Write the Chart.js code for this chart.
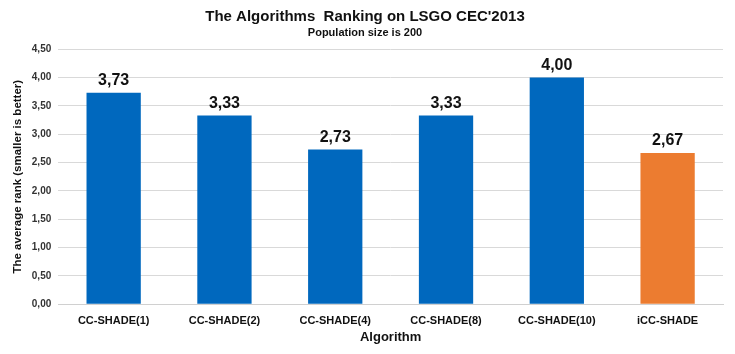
<!DOCTYPE html>
<html>
<head>
<meta charset="utf-8">
<script src="https://cdn.jsdelivr.net/npm/chart.js@4.4.1/dist/chart.umd.min.js"></script>
<style>
  html, body { margin: 0; padding: 0; background: #fff; }
  #wrap { width: 735px; height: 354px; }
</style>
</head>
<body>
<div id="wrap"><canvas id="rankChart"></canvas></div>
<script>
// chart data
const algorithms = ['CC-SHADE(1)', 'CC-SHADE(2)', 'CC-SHADE(4)', 'CC-SHADE(8)', 'CC-SHADE(10)', 'iCC-SHADE'];
const averageRank = [3.73, 3.33, 2.73, 3.33, 4.00, 2.67];
const barColors = ['#0068BE', '#0068BE', '#0068BE', '#0068BE', '#0068BE', '#EC7C30'];

const fmt = (v) => v.toFixed(2).replace('.', ',');

// draws the value above each bar
const valueLabels = {
    id: 'valueLabels',
    afterDatasetsDraw(chart) {
        const ctx = chart.ctx;
        const meta = chart.getDatasetMeta(0);
        ctx.save();
        ctx.font = 'bold 16px "Liberation Sans", Arial, sans-serif';
        ctx.fillStyle = '#111';
        ctx.textAlign = 'center';
        ctx.textBaseline = 'bottom';
        meta.data.forEach((bar, i) => {
            ctx.fillText(fmt(averageRank[i]), bar.x, bar.y - 4);
        });
        ctx.restore();
    }
};

new Chart(document.getElementById('rankChart'), {
    type: 'bar',
    data: {
        labels: algorithms,
        datasets: [{
            data: averageRank,
            backgroundColor: barColors,
            borderColor: barColors,
            borderWidth: 0,
            categoryPercentage: 1,
            barPercentage: 0.49
        }]
    },
    options: {
        responsive: true,
        maintainAspectRatio: false,
        animation: false,
        layout: { padding: { left: 7, right: 12, top: 2, bottom: 5 } },
        plugins: {
            legend: { display: false },
            tooltip: { enabled: false },
            title: {
                display: true,
                text: "The Algorithms  Ranking on LSGO CEC'2013",
                color: '#111',
                font: { family: '"Liberation Sans", Arial, sans-serif', size: 15, weight: 'bold' },
                padding: { top: 6, bottom: 0 }
            },
            subtitle: {
                display: true,
                text: 'Population size is 200',
                color: '#111',
                font: { family: '"Liberation Sans", Arial, sans-serif', size: 11, weight: 'bold' },
                padding: { bottom: 10 }
            }
        },
        scales: {
            x: {
                grid: { display: false },
                border: { color: '#d0d0d0' },
                ticks: {
                    color: '#111',
                    font: { family: '"Liberation Sans", Arial, sans-serif', size: 11, weight: 'bold' },
                    padding: 2
                },
                title: {
                    display: true,
                    text: 'Algorithm',
                    color: '#111',
                    font: { family: '"Liberation Sans", Arial, sans-serif', size: 13, weight: 'bold' },
                    padding: { top: 0 }
                }
            },
            y: {
                min: 0,
                max: 4.5,
                ticks: {
                    stepSize: 0.5,
                    color: '#333',
                    font: { family: '"Liberation Sans", Arial, sans-serif', size: 10, weight: 'bold' },
                    callback: (v) => fmt(v),
                    padding: 7
                },
                grid: { color: '#d9d9d9', drawTicks: false },
                border: { display: false },
                title: {
                    display: true,
                    text: 'The average rank (smaller is better)',
                    color: '#111',
                    font: { family: '"Liberation Sans", Arial, sans-serif', size: 11.5, weight: 'bold' },
                    padding: { bottom: 0 }
                }
            }
        }
    },
    plugins: [valueLabels]
});
</script>
</body>
</html>
